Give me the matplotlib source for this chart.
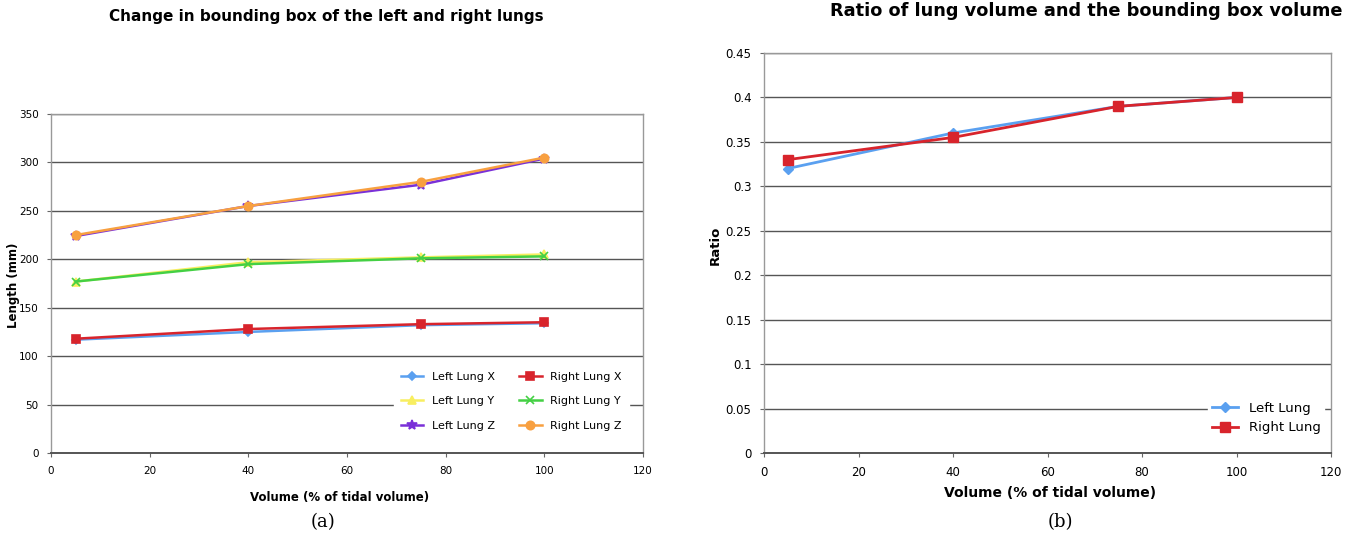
import matplotlib
matplotlib.use("Agg")
import matplotlib.pyplot as plt

# ── Data ────────────────────────────────────────────────────────────────────
volume = [5, 40, 75, 100]

left_x = [117, 125, 132, 134]
right_x = [118, 128, 133, 135]
left_y = [177, 197, 202, 205]
right_y = [177, 195, 201, 203]
left_z = [224, 255, 277, 304]
right_z = [225, 255, 280, 305]

ratio_left = [0.32, 0.36, 0.39, 0.40]
ratio_right = [0.33, 0.355, 0.39, 0.40]

# ── Figure ──────────────────────────────────────────────────────────────────
W, H = 1363, 538
fig = plt.figure(figsize=(W / 100, H / 100), dpi=100)

def px_axes(x0, y0, x1, y1):
    return fig.add_axes([x0 / W, 1 - y1 / H, (x1 - x0) / W, (y1 - y0) / H])

def ftext(x, y, s, **kw):
    fig.text(x / W, 1 - y / H, s, ha="center", va="center", **kw)

def style(ax):
    ax.set_facecolor("white")
    ax.grid(axis="y", color="#555555", linewidth=1.0)
    ax.set_axisbelow(True)
    for s in ax.spines.values():
        s.set_color("#999999")
        s.set_linewidth(1.0)
    ax.spines["bottom"].set_color("#555555")
    ax.spines["bottom"].set_linewidth(1.4)
    ax.tick_params(axis="both", direction="out", length=3, color="#666666",
                   labelsize=7.5, pad=6)
    ax.set_xlim(0, 120)
    ax.set_xticks(range(0, 121, 20))

# Left panel
ax1 = px_axes(51, 114, 643, 453)
style(ax1)
series = [
    ("Left Lung X", left_x, "#5aa0f0", "D", 4),
    ("Right Lung X", right_x, "#d8242c", "s", 6),
    ("Left Lung Y", left_y, "#f8ee60", "^", 6),
    ("Right Lung Y", right_y, "#44d044", "x", 6),
    ("Left Lung Z", left_z, "#7a30d8", "*", 7),
    ("Right Lung Z", right_z, "#f8a040", "o", 6),
]
for lab, vals, col, mk, ms in series:
    ax1.plot(volume, vals, color=col, marker=mk, markersize=ms, linewidth=1.8,
             label=lab, markeredgewidth=1.2)
ax1.set_ylim(0, 350)
ax1.set_yticks(range(0, 351, 50))
handles, labels = ax1.get_legend_handles_labels()
order = [0, 2, 4, 1, 3, 5]
ax1.legend([handles[i] for i in order], [labels[i] for i in order],
           ncol=2, loc="lower right", bbox_to_anchor=(0.985, 0.03),
           fontsize=8, frameon=True, framealpha=1, edgecolor="white",
           handlelength=2.0, labelspacing=1.3, columnspacing=2.2,
           borderpad=0.6)
ftext(326, 16, "Change in bounding box of the left and right lungs",
      fontsize=11, fontweight="bold")
ftext(14, 285, "Length (mm)", fontsize=8.5, fontweight="bold", rotation=90)
ftext(340, 497, "Volume (% of tidal volume)", fontsize=8.5, fontweight="bold")

# Right panel
ax2 = px_axes(764, 53, 1331, 453)
style(ax2)
ax2.plot(volume, ratio_left, color="#5aa0f0", marker="D", markersize=5,
         linewidth=2, label="Left Lung")
ax2.plot(volume, ratio_right, color="#d8242c", marker="s", markersize=7,
         linewidth=2, label="Right Lung")
ax2.set_ylim(0, 0.45)
ax2.set_yticks([0, 0.05, 0.1, 0.15, 0.2, 0.25, 0.3, 0.35, 0.4, 0.45])
ax2.set_yticklabels(["0", "0.05", "0.1", "0.15", "0.2", "0.25", "0.3",
                     "0.35", "0.4", "0.45"])
ax2.tick_params(axis="both", labelsize=8.5)
ax2.legend(loc="lower right", bbox_to_anchor=(1.0, 0.02), fontsize=9.5,
           frameon=True, framealpha=1, edgecolor="white", handlelength=2.0,
           labelspacing=0.5, borderpad=0.3)
ftext(1086, 11, "Ratio of lung volume and the bounding box volume",
      fontsize=12.8, fontweight="bold")
ftext(715, 245, "Ratio", fontsize=9.5, fontweight="bold", rotation=90)
ftext(1050, 493, "Volume (% of tidal volume)", fontsize=10, fontweight="bold")

ftext(323, 522, "(a)", fontsize=13, family="DejaVu Serif")
ftext(1060, 522, "(b)", fontsize=13, family="DejaVu Serif")

fig.savefig("out.png", dpi=100, facecolor="white")
